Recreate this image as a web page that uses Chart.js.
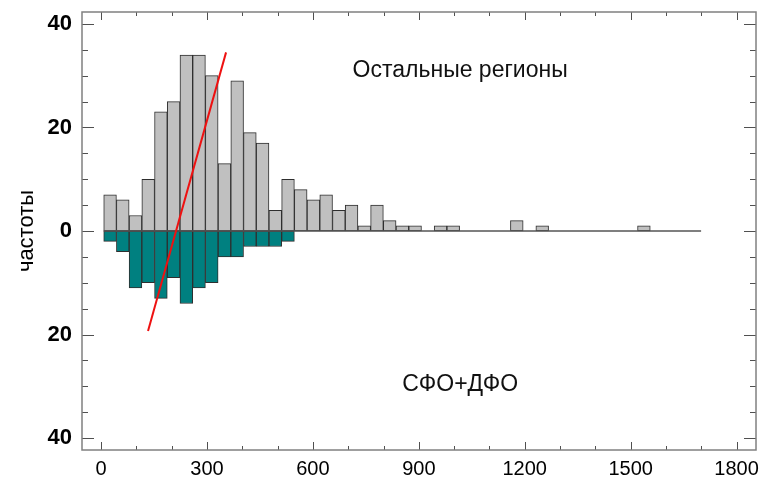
<!DOCTYPE html>
<html>
<head>
<meta charset="utf-8">
<script src="https://cdn.jsdelivr.net/npm/chart.js@4"></script>
<style>
  html, body { margin: 0; padding: 0; background: #fff; }
  #wrap { width: 765px; height: 482px; }
</style>
</head>
<body>
<div id="wrap"><canvas id="histChart"></canvas></div>
<script>
// histogram bins (width 36, first edge at 7.5)
const binStart = 7.5;
const binWidth = 36;
const upperCounts = [7, 6, 3, 10, 23, 25, 34, 34, 30, 13, 29, 19, 17, 4, 10, 8, 6, 7, 4, 5,
  1, 5, 2, 1, 1, 0, 1, 1, 0, 0, 0, 0, 2, 0, 1, 0, 0, 0, 0, 0, 0, 0, 1, 0, 0, 0, 0];
const lowerCounts = [2, 4, 11, 10, 13, 9, 14, 11, 10, 5, 5, 3, 3, 3, 2];

const xTickValues = [0, 300, 600, 900, 1200, 1500, 1800];
const yTickValues = [-40, -20, 0, 20, 40];

// red trend segment
const fitLineX = [133, 354];
const fitLineY = [-19.3, 34.5];

const regionNames = ["Остальные регионы", "СФО+ДФО"];

const binCenter = (i) => binStart + binWidth * (i + 0.5);
const upperData = upperCounts.map((v, i) => ({ x: binCenter(i), y: v }));
const lowerData = lowerCounts.map((v, i) => ({ x: binCenter(i), y: -v }));
const baseData = [
  { x: binStart, y: 0 },
  { x: binStart + binWidth * upperCounts.length, y: 0 },
];
const fitData = fitLineX.map((x, i) => ({ x: x, y: fitLineY[i] }));

Chart.defaults.font.family = "Arial, 'Liberation Sans', sans-serif";
Chart.defaults.color = "#000";

// frame with inward ticks + region captions
const framePlugin = {
  id: "frame",
  afterDatasetsDraw(chart) {
    const { ctx, scales } = chart;
    const x = scales.x, y = scales.y;
    const spots = [[1017, 29.8], [1017, -31]];
    ctx.save();
    ctx.fillStyle = "#111";
    ctx.font = "23px Arial, 'Liberation Sans', sans-serif";
    ctx.textAlign = "center";
    ctx.textBaseline = "alphabetic";
    regionNames.forEach((t, i) => {
      ctx.fillText(t, x.getPixelForValue(spots[i][0]), y.getPixelForValue(spots[i][1]));
    });
    ctx.restore();
  },
  afterDraw(chart) {
    const { ctx, chartArea: a, scales } = chart;
    const x = scales.x, y = scales.y;
    ctx.save();
    ctx.strokeStyle = "#505050";
    ctx.lineWidth = 1;
    const seg = (x1, y1, x2, y2) => {
      ctx.beginPath();
      ctx.moveTo(x1, y1);
      ctx.lineTo(x2, y2);
      ctx.stroke();
    };
    for (let v = -40; v <= 40; v += 5) {
      const py = Math.round(y.getPixelForValue(v)) + 0.5;
      const len = v % 20 === 0 ? 12 : 6;
      seg(a.left, py, a.left + len, py);
      seg(a.right, py, a.right - len, py);
    }
    for (let v = 0; v <= 1800; v += 100) {
      const px = Math.round(x.getPixelForValue(v)) + 0.5;
      const len = v % 300 === 0 ? 8 : 4;
      seg(px, a.bottom, px, a.bottom - len);
      seg(px, a.top, px, a.top + len);
    }
    ctx.strokeStyle = "#808080";
    ctx.lineWidth = 1.5;
    ctx.strokeRect(a.left, a.top, a.right - a.left, a.bottom - a.top);
    ctx.restore();
  },
};

const ctx = document.getElementById("histChart").getContext("2d");
const histChart = new Chart(ctx, {
  type: "bar",
  data: {
    datasets: [
      {
        type: "line",
        data: fitData,
        borderColor: "#ee1111",
        borderWidth: 2,
        pointRadius: 0,
        order: 0,
      },
      {
        type: "line",
        data: baseData,
        borderColor: "#555",
        borderWidth: 1.5,
        pointRadius: 0,
        order: 1,
      },
      {
        data: upperData,
        backgroundColor: "#c0c0c0",
        borderColor: "#2e2e2e",
        borderWidth: 1,
        borderSkipped: false,
        grouped: false,
        categoryPercentage: 1,
        barPercentage: 1,
        order: 2,
      },
      {
        data: lowerData,
        backgroundColor: "#008080",
        borderColor: "#2e2e2e",
        borderWidth: 1,
        borderSkipped: false,
        grouped: false,
        categoryPercentage: 1,
        barPercentage: 1,
        order: 2,
      },
    ],
  },
  options: {
    responsive: true,
    maintainAspectRatio: false,
    animation: false,
    layout: { padding: { top: 12, right: 9, left: 0, bottom: 0 } },
    plugins: { legend: { display: false }, tooltip: { enabled: false } },
    scales: {
      x: {
        type: "linear",
        min: -54,
        max: 1855,
        offset: false,
        grid: { display: false, drawTicks: false },
        border: { display: false },
        afterBuildTicks: (scale) => {
          scale.ticks = xTickValues.map((v) => ({ value: v }));
        },
        afterFit: (scale) => {
          scale.height = 32;
          scale.paddingLeft = 0;
          scale.paddingRight = 0;
        },
        ticks: {
          font: { size: 20 },
          color: "#000",
          padding: 7,
          maxRotation: 0,
          callback: (v) => String(v),
        },
      },
      y: {
        min: -42.3,
        max: 42.3,
        grid: { display: false, drawTicks: false },
        border: { display: false },
        afterBuildTicks: (scale) => {
          scale.ticks = yTickValues.map((v) => ({ value: v }));
        },
        afterFit: (scale) => {
          scale.width = 82;
          scale.paddingTop = 0;
          scale.paddingBottom = 0;
        },
        ticks: {
          font: { size: 22, weight: "bold" },
          color: "#000",
          padding: 10,
          callback: (v) => String(Math.abs(v)),
        },
        title: {
          display: true,
          text: "частоты",
          font: { size: 22 },
          color: "#000",
          padding: { top: 14, bottom: 0 },
        },
      },
    },
  },
  plugins: [framePlugin],
});
</script>
</body>
</html>
